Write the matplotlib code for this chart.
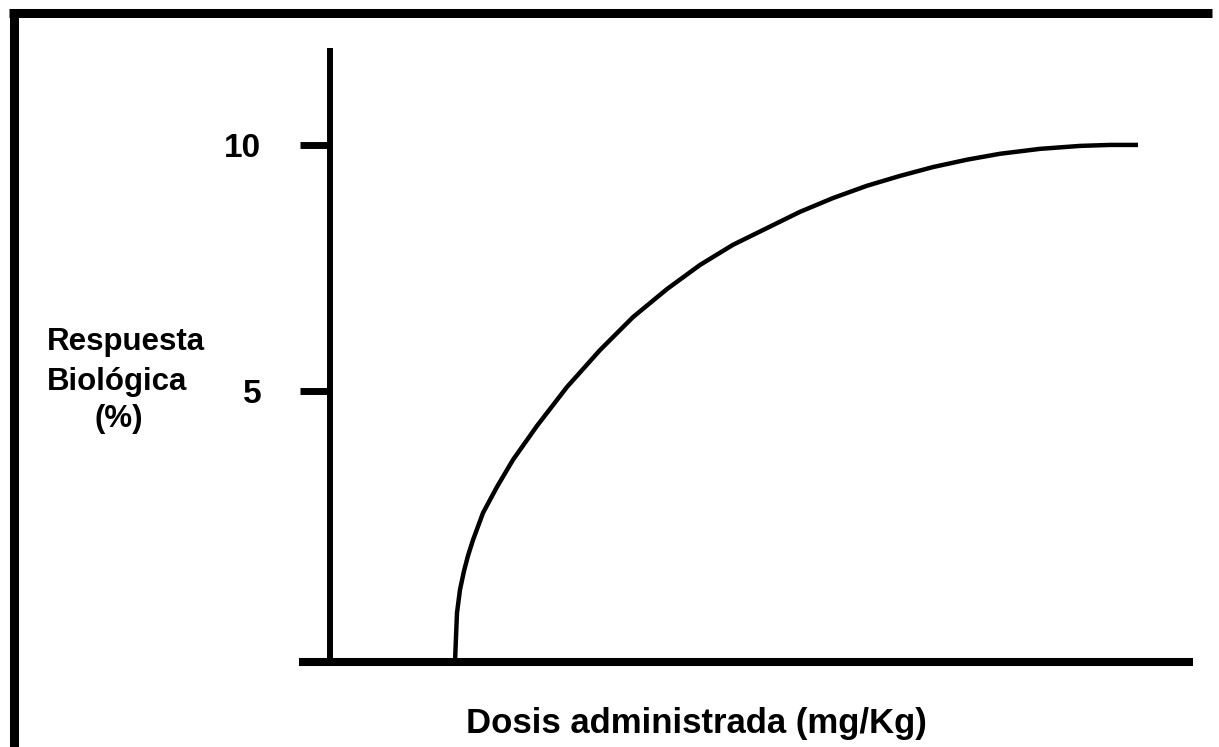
import matplotlib
matplotlib.use("Agg")
import matplotlib.pyplot as plt
from matplotlib.lines import Line2D

plt.rcParams['font.family'] = ['Liberation Sans', 'DejaVu Sans']
plt.rcParams['font.weight'] = 'bold'

W, H = 1219, 747

# curve (dose, response)
dosis = [1.25, 1.26, 1.27, 1.30, 1.34, 1.38, 1.43, 1.53, 1.67, 1.83, 2.07,
         2.37, 2.70, 3.03, 3.37, 3.70, 4.03, 4.37, 4.70, 5.03, 5.37, 5.70,
         6.03, 6.37, 6.70, 7.10, 7.50, 7.80, 8.08]
respuesta = [-0.51, 0.00, 0.49, 0.96, 1.34, 1.65, 1.97, 2.52, 3.05, 3.60, 4.29,
             5.08, 5.83, 6.50, 7.07, 7.56, 7.97, 8.31, 8.64, 8.92, 9.17, 9.37,
             9.55, 9.70, 9.82, 9.92, 9.98, 10.0, 10.0]
yticks = [5, 10]
ytick_labels = ["5", "10"]


def fx(px):
    return px / W


def fy(py):
    return 1 - py / H


fig = plt.figure(figsize=(W / 100, H / 100), dpi=100)
ax = fig.add_axes([fx(299), fy(662), fx(1193) - fx(299), fy(48) - fy(662)])

ax.plot(dosis, respuesta, color='black', lw=3.2, solid_capstyle='butt',
        solid_joinstyle='round')

ax.set_xlim(-0.31, 8.63)
ax.set_ylim(-0.51, 11.97)

for s in ['top', 'right']:
    ax.spines[s].set_visible(False)
ax.spines['left'].set_position(('data', 0))
ax.spines['left'].set_linewidth(4.3)
ax.spines['bottom'].set_linewidth(5.8)
ax.spines['left'].set_capstyle('butt')
ax.spines['bottom'].set_capstyle('butt')

ax.set_xticks([])
ax.set_yticks(yticks)
ax.set_yticklabels(ytick_labels, fontsize=24, fontweight='bold')
ax.tick_params(axis='y', direction='out', length=21.6, width=5, pad=28)

# y label (three lines placed separately)
fig.text(fx(47), fy(350), "Respuesta", fontsize=22.5, fontweight='bold',
         ha='left', va='baseline')
fig.text(fx(47), fy(390), "Biológica", fontsize=22.5, fontweight='bold',
         ha='left', va='baseline')
fig.text(fx(119), fy(427), "(%)", fontsize=22.5, fontweight='bold',
         ha='center', va='baseline')

# x label
fig.text(fx(696), fy(733), "Dosis administrada (mg/Kg)", fontsize=25,
         fontweight='bold', ha='center', va='baseline')

# frame around the figure (clipped at right and bottom)
fig.add_artist(Line2D([fx(13.5), fx(13.5)], [fy(760), fy(12.5)],
                      transform=fig.transFigure, color='black', lw=6.5,
                      solid_capstyle='butt'))
fig.add_artist(Line2D([fx(9), fx(1212)], [fy(12.5), fy(12.5)],
                      transform=fig.transFigure, color='black', lw=6.5,
                      solid_capstyle='butt'))

fig.savefig("out.png", dpi=100, facecolor='white')
